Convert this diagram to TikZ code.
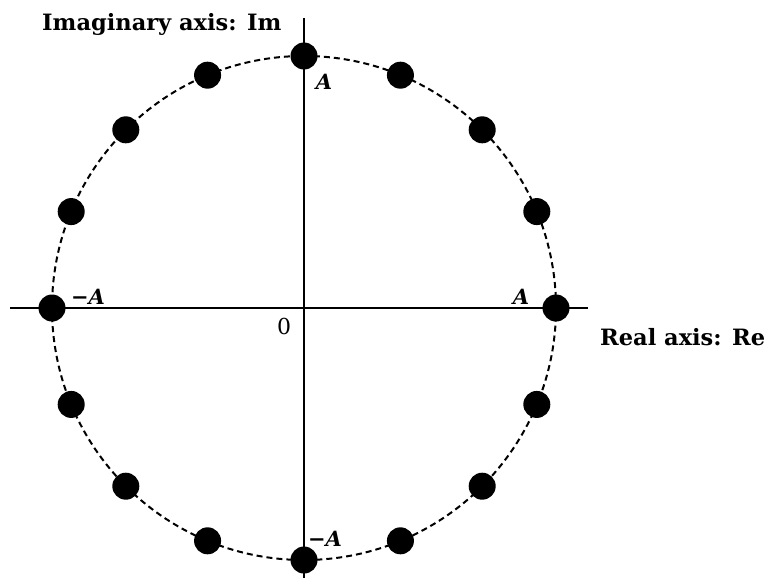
\documentclass[tikz,border=0pt]{standalone}
\usepackage{fontspec}
\setmainfont{DejaVu Serif}
\usetikzlibrary{calc}
\begin{document}
\begin{tikzpicture}[x=1pt,y=-1pt,
  axis/.style={line width=2.2pt},
  ring/.style={line width=2pt, dash pattern=on 6pt off 4pt},
  dot/.style={circle, fill=black, inner sep=0pt, minimum size=27pt},
  lab/.style={font=\fontsize{22.5}{26}\selectfont\bfseries, inner sep=0pt},
  numlab/.style={font=\fontsize{22}{26}\selectfont, inner sep=0pt},
  vlab/.style={font=\fontsize{21}{24}\selectfont\bfseries\itshape, inner sep=0pt}]
\useasboundingbox (0,0) rectangle (770,583);
\coordinate (O) at (304,308);
\coordinate (xl) at (10,308);
\coordinate (xr) at (588,308);
\coordinate (yt) at (304,18);
\coordinate (yb) at (304,578);
\draw[axis] (xl) -- (xr);
\draw[axis] (yt) -- (yb);
\draw[ring] (O) circle[radius=252pt];
\foreach \i in {0,...,15} {
  \node[dot] (d\i) at ($(O)+({\i*22.5}:252pt and -252pt)$) {};
}
\node[lab, anchor=base west] (im) at (42,31) {Imaginary axis: Im};
\node[lab, anchor=base west] (re) at (600,345) {Real axis: Re};
\node[vlab] (at) at (324,82) {A};
\node[vlab] (al) at (88,297) {−A};
\node[vlab] (ar) at (521,297) {A};
\node[numlab] (zero) at (284,326) {0};
\node[vlab] (ab) at (325,539) {−A};
\end{tikzpicture}
\end{document}
